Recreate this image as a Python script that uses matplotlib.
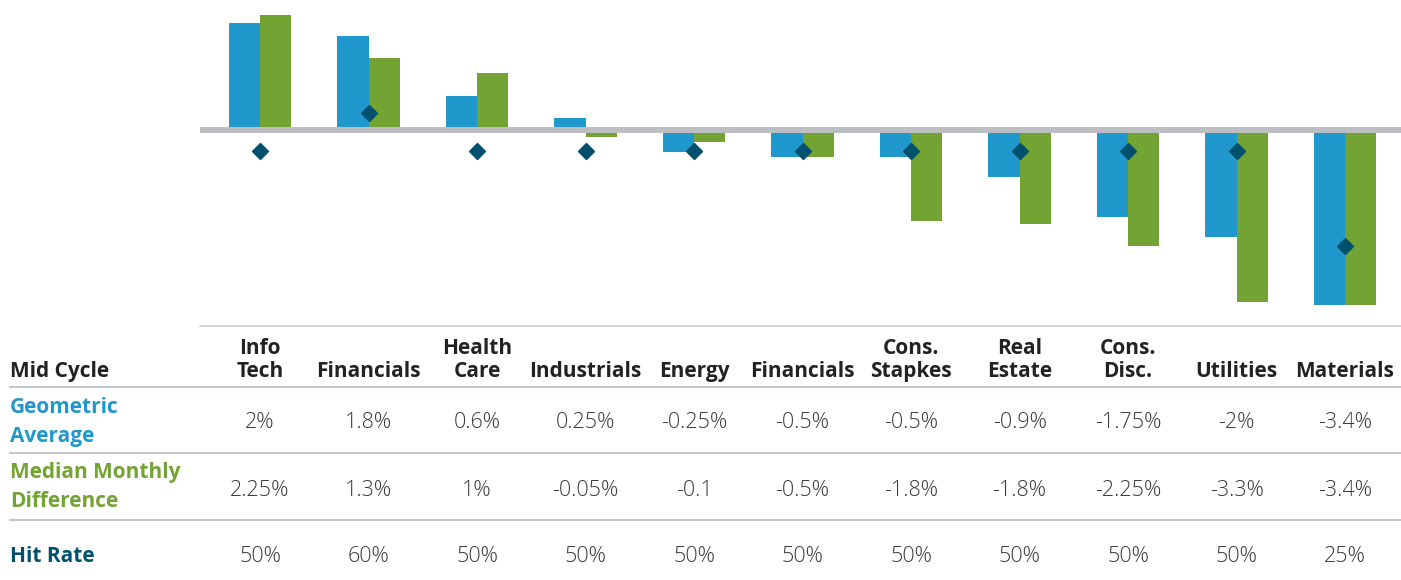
import matplotlib.pyplot as plt
import numpy as np
from matplotlib.lines import Line2D
from matplotlib.transforms import blended_transform_factory

# --- Data ---
categories = ["Info\nTech", "Financials", "Health\nCare", "Industrials", "Energy",
              "Financials", "Cons.\nStapkes", "Real\nEstate", "Cons.\nDisc.",
              "Utilities", "Materials"]

# bar heights (%) as drawn in the chart
geo_avg = [2.04, 1.79, 0.65, 0.23, -0.41, -0.51, -0.51, -0.89, -1.65, -2.04, -3.33]
median_diff = [2.19, 1.37, 1.09, -0.13, -0.23, -0.51, -1.74, -1.79, -2.2, -3.28, -3.33]
hit_rate = [50, 60, 50, 50, 50, 50, 50, 50, 50, 50, 25]

# table text
geo_labels = ["2%", "1.8%", "0.6%", "0.25%", "-0.25%", "-0.5%", "-0.5%",
              "-0.9%", "-1.75%", "-2%", "-3.4%"]
median_labels = ["2.25%", "1.3%", "1%", "-0.05%", "-0.1", "-0.5%", "-1.8%",
                 "-1.8%", "-2.25%", "-3.3%", "-3.4%"]
hit_labels = ["50%", "60%", "50%", "50%", "50%", "50%", "50%", "50%", "50%",
              "50%", "25%"]

# --- Style ---
BLUE = "#2198CC"
GREEN = "#73A332"
NAVY = "#00506E"
DARK = "#222222"
VALUE = "#3A3A3A"
FONT = "Open Sans"
FS = 15
FS_VAL = 15.5

W, H = 1401, 580
fig = plt.figure(figsize=(W / 100, H / 100), dpi=100)


def fy(px):
    return 1 - px / H


ax = fig.add_axes([200 / W, fy(326), 1 - 200 / W, 326 / H])
x = np.arange(len(categories))
bw = 0.286

ax.bar(x - bw / 2, geo_avg, bw, color=BLUE, zorder=2)
ax.bar(x + bw / 2, median_diff, bw, color=GREEN, zorder=2)
ax.axhline(0, color="#BDBEC2", linewidth=4.3, zorder=3)
ax.set_xlim(-0.553, 10.516)
ax.set_ylim(-3.733, 2.476)
ax.axis("off")

# hit rate diamonds on their own scale
ax2 = ax.twinx()
ax2.plot(x, hit_rate, linestyle="none", marker="D", markersize=8.5, color=NAVY, zorder=4)
ax2.set_ylim(4.0, 89.8)
ax2.axis("off")

# --- Table below the chart ---
trans = blended_transform_factory(ax.transData, fig.transFigure)

fig.add_artist(Line2D([200 / W, 1], [fy(326)] * 2, color="#C9CACE", linewidth=1.1))
for yy in [387, 453, 520]:
    fig.add_artist(Line2D([10 / W, 1], [fy(yy)] * 2, color="#BCC0CA", linewidth=1.3))

fig.text(10 / W, fy(382), "Mid Cycle", ha="left", va="bottom", fontsize=FS,
         fontweight="bold", color=DARK, family=FONT)
for i, c in enumerate(categories):
    fig.text(i, fy(382), c, transform=trans, ha="center", va="bottom", fontsize=FS,
             fontweight="bold", color=DARK, family=FONT, linespacing=1.13,
             multialignment="center")

row_labels = ["Geometric\nAverage", "Median Monthly\nDifference", "Hit Rate"]
row_colors = [BLUE, GREEN, NAVY]
row_bottoms = [447, 512, 567]
for lab, col, yb in zip(row_labels, row_colors, row_bottoms):
    fig.text(10 / W, fy(yb), lab, ha="left", va="bottom", fontsize=FS,
             fontweight="bold", color=col, family=FONT, linespacing=1.5)

for labels, base in zip([geo_labels, median_labels, hit_labels], [428, 496, 562]):
    for i, s in enumerate(labels):
        fig.text(i, fy(base), s, transform=trans, ha="center", va="baseline",
                 fontsize=FS_VAL, fontweight="light", color=VALUE, family=FONT)

fig.savefig("out.png", dpi=100)
